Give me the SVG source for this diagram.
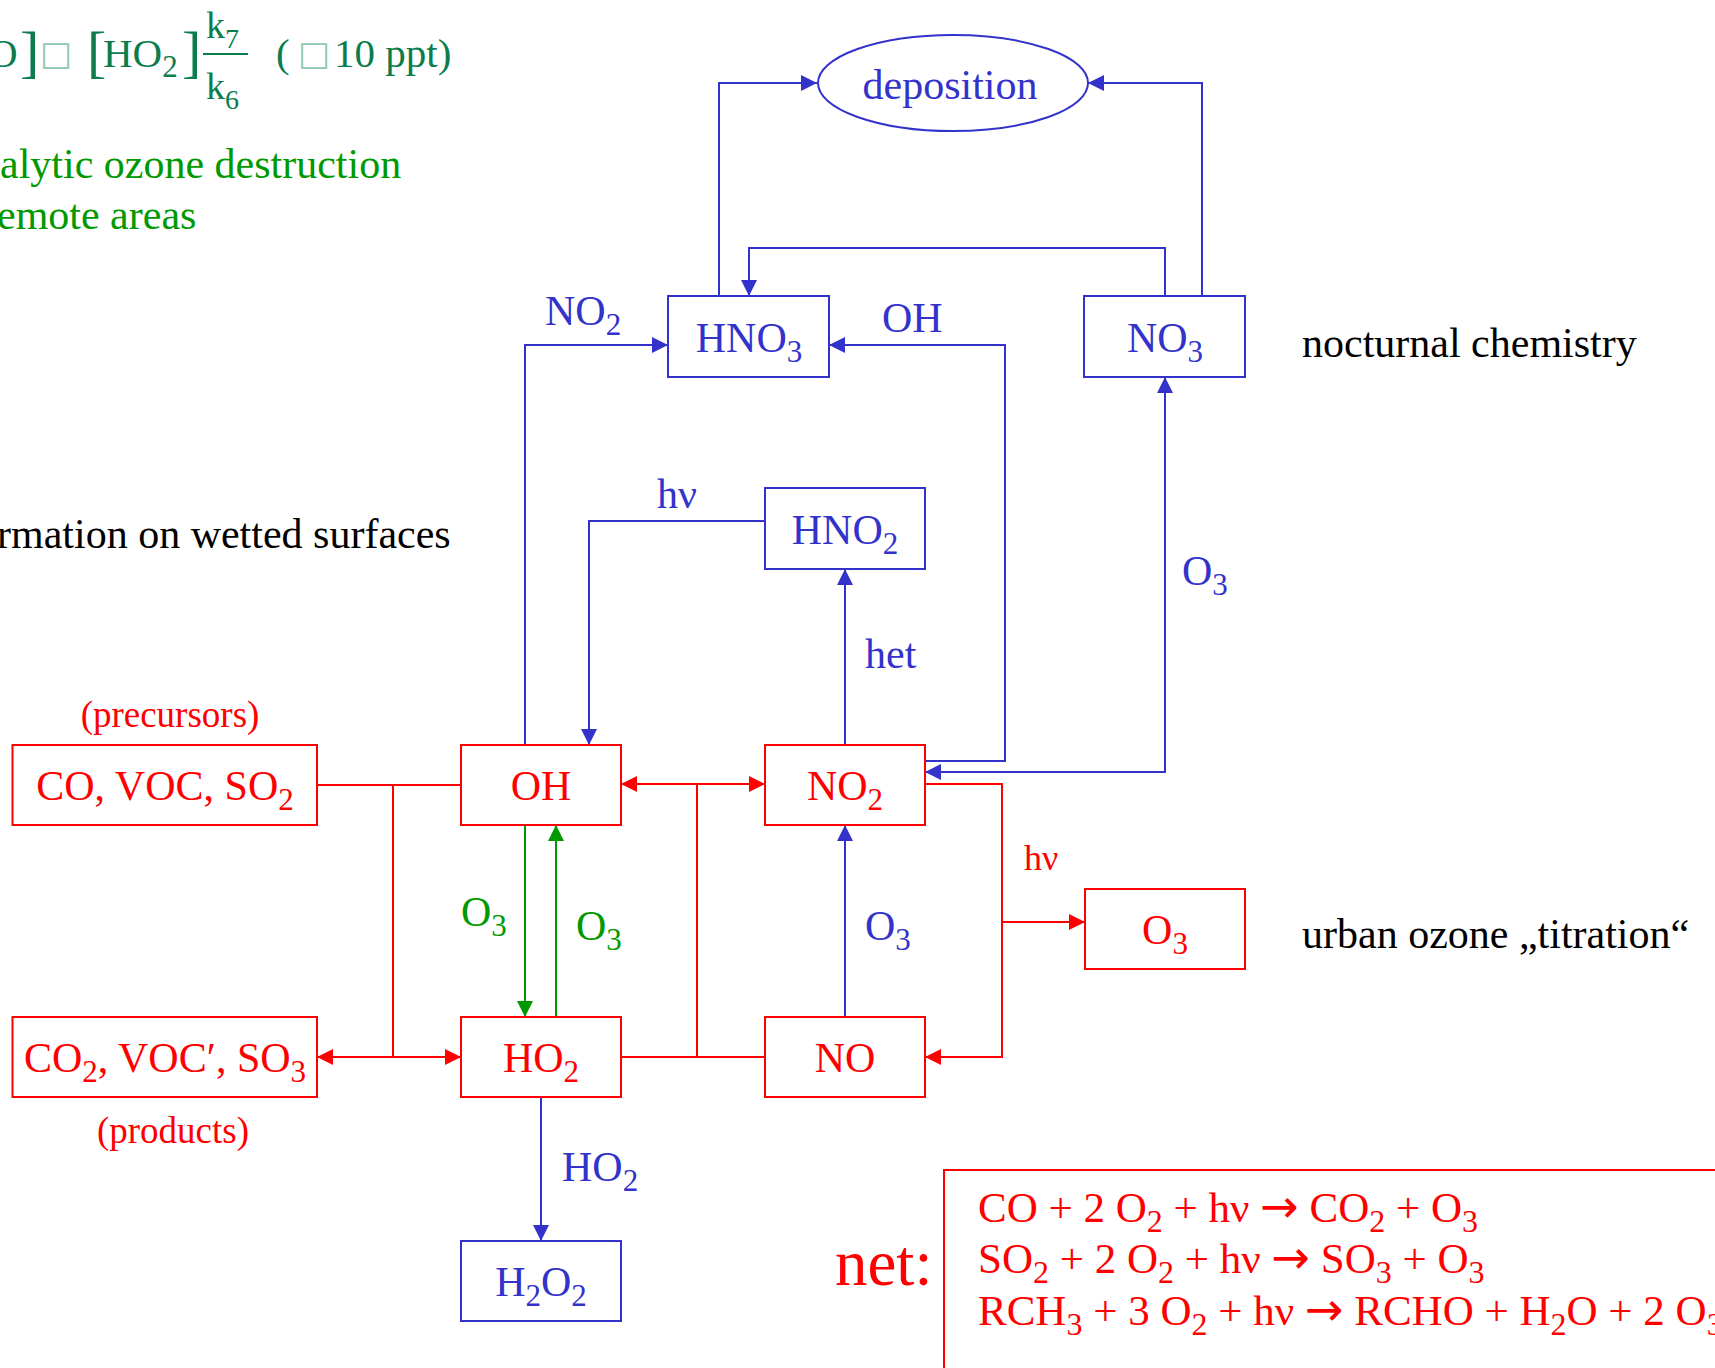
<svg xmlns="http://www.w3.org/2000/svg" width="1715" height="1368" viewBox="0 0 1715 1368">
<style>
text{font-family:"Liberation Serif","Times New Roman",serif;font-size:42px}
.tb{fill:#3333CC}
.tr{fill:#FF0000}
.tg{fill:#009900}
.tk{fill:#000000}
.tt{fill:#0B7D4D}
.s{font-size:31px}
.ar{font-family:"DejaVu Sans",sans-serif;font-size:46px}
.tofu{font-family:"DejaVu Sans",sans-serif;font-size:34px;fill:#8FC9AE}
.eq{font-size:43px}
.eqs{font-size:32px}
.nb{fill:#FFFFFF;stroke:#3333CC;stroke-width:2}
.nr{fill:#FFFFFF;stroke:#FF0000;stroke-width:2}
.cb{fill:none;stroke:#3333CC;stroke-width:2}
.cr{fill:none;stroke:#FF0000;stroke-width:2}
.cg{fill:none;stroke:#009900;stroke-width:2}
.mid{text-anchor:middle}
</style>
<defs>
<marker id="ab" viewBox="0 0 16 16" refX="16" refY="8" markerWidth="16" markerHeight="16" markerUnits="userSpaceOnUse" orient="auto-start-reverse"><path d="M0,0L16,8L0,16z" fill="#3333CC"/></marker>
<marker id="ar" viewBox="0 0 16 16" refX="16" refY="8" markerWidth="16" markerHeight="16" markerUnits="userSpaceOnUse" orient="auto-start-reverse"><path d="M0,0L16,8L0,16z" fill="#FF0000"/></marker>
<marker id="ag" viewBox="0 0 16 16" refX="16" refY="8" markerWidth="16" markerHeight="16" markerUnits="userSpaceOnUse" orient="auto-start-reverse"><path d="M0,0L16,8L0,16z" fill="#009900"/></marker>
</defs>
<rect width="1715" height="1368" fill="#FFFFFF"/>

<g id="formula">
<text class="tt" x="-12" y="67" style="font-size:41px">O</text>
<text class="tt" x="20" y="71" style="font-size:58px">]</text>
<text class="tofu" x="40" y="65">□</text>
<text class="tt" x="87" y="71" style="font-size:58px">[</text>
<text class="tt" x="103" y="67" style="font-size:41px">HO<tspan class="s" dy="10">2</tspan></text>
<text class="tt" x="182" y="71" style="font-size:58px">]</text>
<text class="tt" x="206" y="38" style="font-size:38px">k<tspan style="font-size:28px" dy="10">7</tspan></text>
<line x1="203" y1="54" x2="248" y2="54" stroke="#0B7D4D" stroke-width="2"/>
<text class="tt" x="206" y="99" style="font-size:38px">k<tspan style="font-size:28px" dy="10">6</tspan></text>
<text class="tt" x="276" y="67" style="font-size:41px">(</text>
<text class="tofu" x="298" y="65">□</text>
<text class="tt" x="334" y="67" style="font-size:41px">10 ppt)</text>
</g>
<g id="notes">
<text class="tg" x="0" y="178">alytic ozone destruction</text>
<text class="tg" x="-3" y="229">emote areas</text>
<text class="tk" x="-3" y="548">rmation on wetted surfaces</text>
<text class="tk" x="1302" y="357">nocturnal chemistry</text>
<text class="tk" x="1302" y="948">urban ozone „titration“</text>
<text class="tr mid" x="170" y="727" style="font-size:37px">(precursors)</text>
<text class="tr mid" x="173" y="1143" style="font-size:37px">(products)</text>
</g>

<g id="connectors">
<path class="cb" d="M719,296V83H817" marker-end="url(#ab)"/>
<path class="cb" d="M1202,296V83H1088" marker-end="url(#ab)"/>
<path class="cb" d="M1165,296V248H749V296" marker-end="url(#ab)"/>
<path class="cb" d="M525,745V345H668" marker-end="url(#ab)"/>
<path class="cb" d="M925,761H1005V345H829" marker-end="url(#ab)"/>
<path class="cb" d="M925,772H1165V377" marker-start="url(#ab)" marker-end="url(#ab)"/>
<path class="cb" d="M765,521H589V745" marker-end="url(#ab)"/>
<path class="cb" d="M845,745V569" marker-end="url(#ab)"/>
<path class="cb" d="M845,1017V825" marker-end="url(#ab)"/>
<path class="cb" d="M541,1097V1241" marker-end="url(#ab)"/>
<path class="cr" d="M317,785H461M393,785V1057"/>
<path class="cr" d="M393,1057H317" marker-end="url(#ar)"/>
<path class="cr" d="M393,1057H461" marker-end="url(#ar)"/>
<path class="cr" d="M697,784H621" marker-end="url(#ar)"/>
<path class="cr" d="M697,784H765" marker-end="url(#ar)"/>
<path class="cr" d="M697,784V1057M621,1057H765"/>
<path class="cr" d="M925,784H1002V1057H925" marker-end="url(#ar)"/>
<path class="cr" d="M1002,922H1085" marker-end="url(#ar)"/>
<path class="cg" d="M525,825V1017" marker-end="url(#ag)"/>
<path class="cg" d="M556,1017V825" marker-end="url(#ag)"/>
</g>
<g id="edge-labels">
<text class="tb" x="545" y="325">NO<tspan class="s" dy="10">2</tspan></text>
<text class="tb" x="882" y="332">OH</text>
<text class="tb" x="657" y="508">hν</text>
<text class="tb" x="865" y="668">het</text>
<text class="tb" x="1182" y="585">O<tspan class="s" dy="10">3</tspan></text>
<text class="tg" x="461" y="926">O<tspan class="s" dy="10">3</tspan></text>
<text class="tg" x="576" y="940">O<tspan class="s" dy="10">3</tspan></text>
<text class="tr" x="1024" y="870" style="font-size:36px">hν</text>
<text class="tb" x="865" y="940">O<tspan class="s" dy="10">3</tspan></text>
<text class="tb" x="562" y="1181">HO<tspan class="s" dy="10">2</tspan></text>
</g>

<g id="node-deposition">
<ellipse class="nb" cx="953" cy="83" rx="135" ry="48"/>
<text class="tb mid" x="950" y="99">deposition</text>
</g>
<g id="node-HNO3">
<rect class="nb" x="668" y="296" width="161" height="81"/>
<text class="tb mid" x="749" y="352">HNO<tspan class="s" dy="10">3</tspan></text>
</g>
<g id="node-NO3">
<rect class="nb" x="1084" y="296" width="161" height="81"/>
<text class="tb mid" x="1165" y="352">NO<tspan class="s" dy="10">3</tspan></text>
</g>
<g id="node-HNO2">
<rect class="nb" x="765" y="488" width="160" height="81"/>
<text class="tb mid" x="845" y="544">HNO<tspan class="s" dy="10">2</tspan></text>
</g>
<g id="node-precursors">
<rect class="nr" x="12.5" y="745" width="304.5" height="80"/>
<text class="tr mid" x="165" y="800">CO, VOC, SO<tspan class="s" dy="10">2</tspan></text>
</g>
<g id="node-OH">
<rect class="nr" x="461" y="745" width="160" height="80"/>
<text class="tr mid" x="541" y="800">OH</text>
</g>
<g id="node-NO2">
<rect class="nr" x="765" y="745" width="160" height="80"/>
<text class="tr mid" x="845" y="800">NO<tspan class="s" dy="10">2</tspan></text>
</g>
<g id="node-O3">
<rect class="nr" x="1085" y="889" width="160" height="80"/>
<text class="tr mid" x="1165" y="944">O<tspan class="s" dy="10">3</tspan></text>
</g>
<g id="node-products">
<rect class="nr" x="12.5" y="1017" width="304.5" height="80"/>
<text class="tr mid" x="165" y="1072">CO<tspan class="s" dy="10">2</tspan><tspan dy="-10">, VOC′, SO</tspan><tspan class="s" dy="10">3</tspan></text>
</g>
<g id="node-HO2">
<rect class="nr" x="461" y="1017" width="160" height="80"/>
<text class="tr mid" x="541" y="1072">HO<tspan class="s" dy="10">2</tspan></text>
</g>
<g id="node-NO">
<rect class="nr" x="765" y="1017" width="160" height="80"/>
<text class="tr mid" x="845" y="1072">NO</text>
</g>
<g id="node-H2O2">
<rect class="nb" x="461" y="1241" width="160" height="80"/>
<text class="tb mid" x="541" y="1296">H<tspan class="s" dy="10">2</tspan><tspan dy="-10">O</tspan><tspan class="s" dy="10">2</tspan></text>
</g>
<g id="node-net">
<rect class="nr" x="944" y="1170" width="800" height="230" fill="none"/>
<text class="tr" x="835" y="1285" style="font-size:65px">net:</text>
<text class="tr eq" x="978" y="1222">CO + 2 O<tspan class="eqs" dy="10">2</tspan><tspan dy="-10"> + hν </tspan><tspan class="ar">→</tspan><tspan> CO</tspan><tspan class="eqs" dy="10">2</tspan><tspan dy="-10"> + O</tspan><tspan class="eqs" dy="10">3</tspan></text>
<text class="tr eq" x="978" y="1273">SO<tspan class="eqs" dy="10">2</tspan><tspan dy="-10"> + 2 O</tspan><tspan class="eqs" dy="10">2</tspan><tspan dy="-10"> + hν </tspan><tspan class="ar">→</tspan><tspan> SO</tspan><tspan class="eqs" dy="10">3</tspan><tspan dy="-10"> + O</tspan><tspan class="eqs" dy="10">3</tspan></text>
<text class="tr eq" x="978" y="1325">RCH<tspan class="eqs" dy="10">3</tspan><tspan dy="-10"> + 3 O</tspan><tspan class="eqs" dy="10">2</tspan><tspan dy="-10"> + hν </tspan><tspan class="ar">→</tspan><tspan> RCHO + H</tspan><tspan class="eqs" dy="10">2</tspan><tspan dy="-10">O + 2 O</tspan><tspan class="eqs" dy="10">3</tspan></text>
</g>
</svg>
